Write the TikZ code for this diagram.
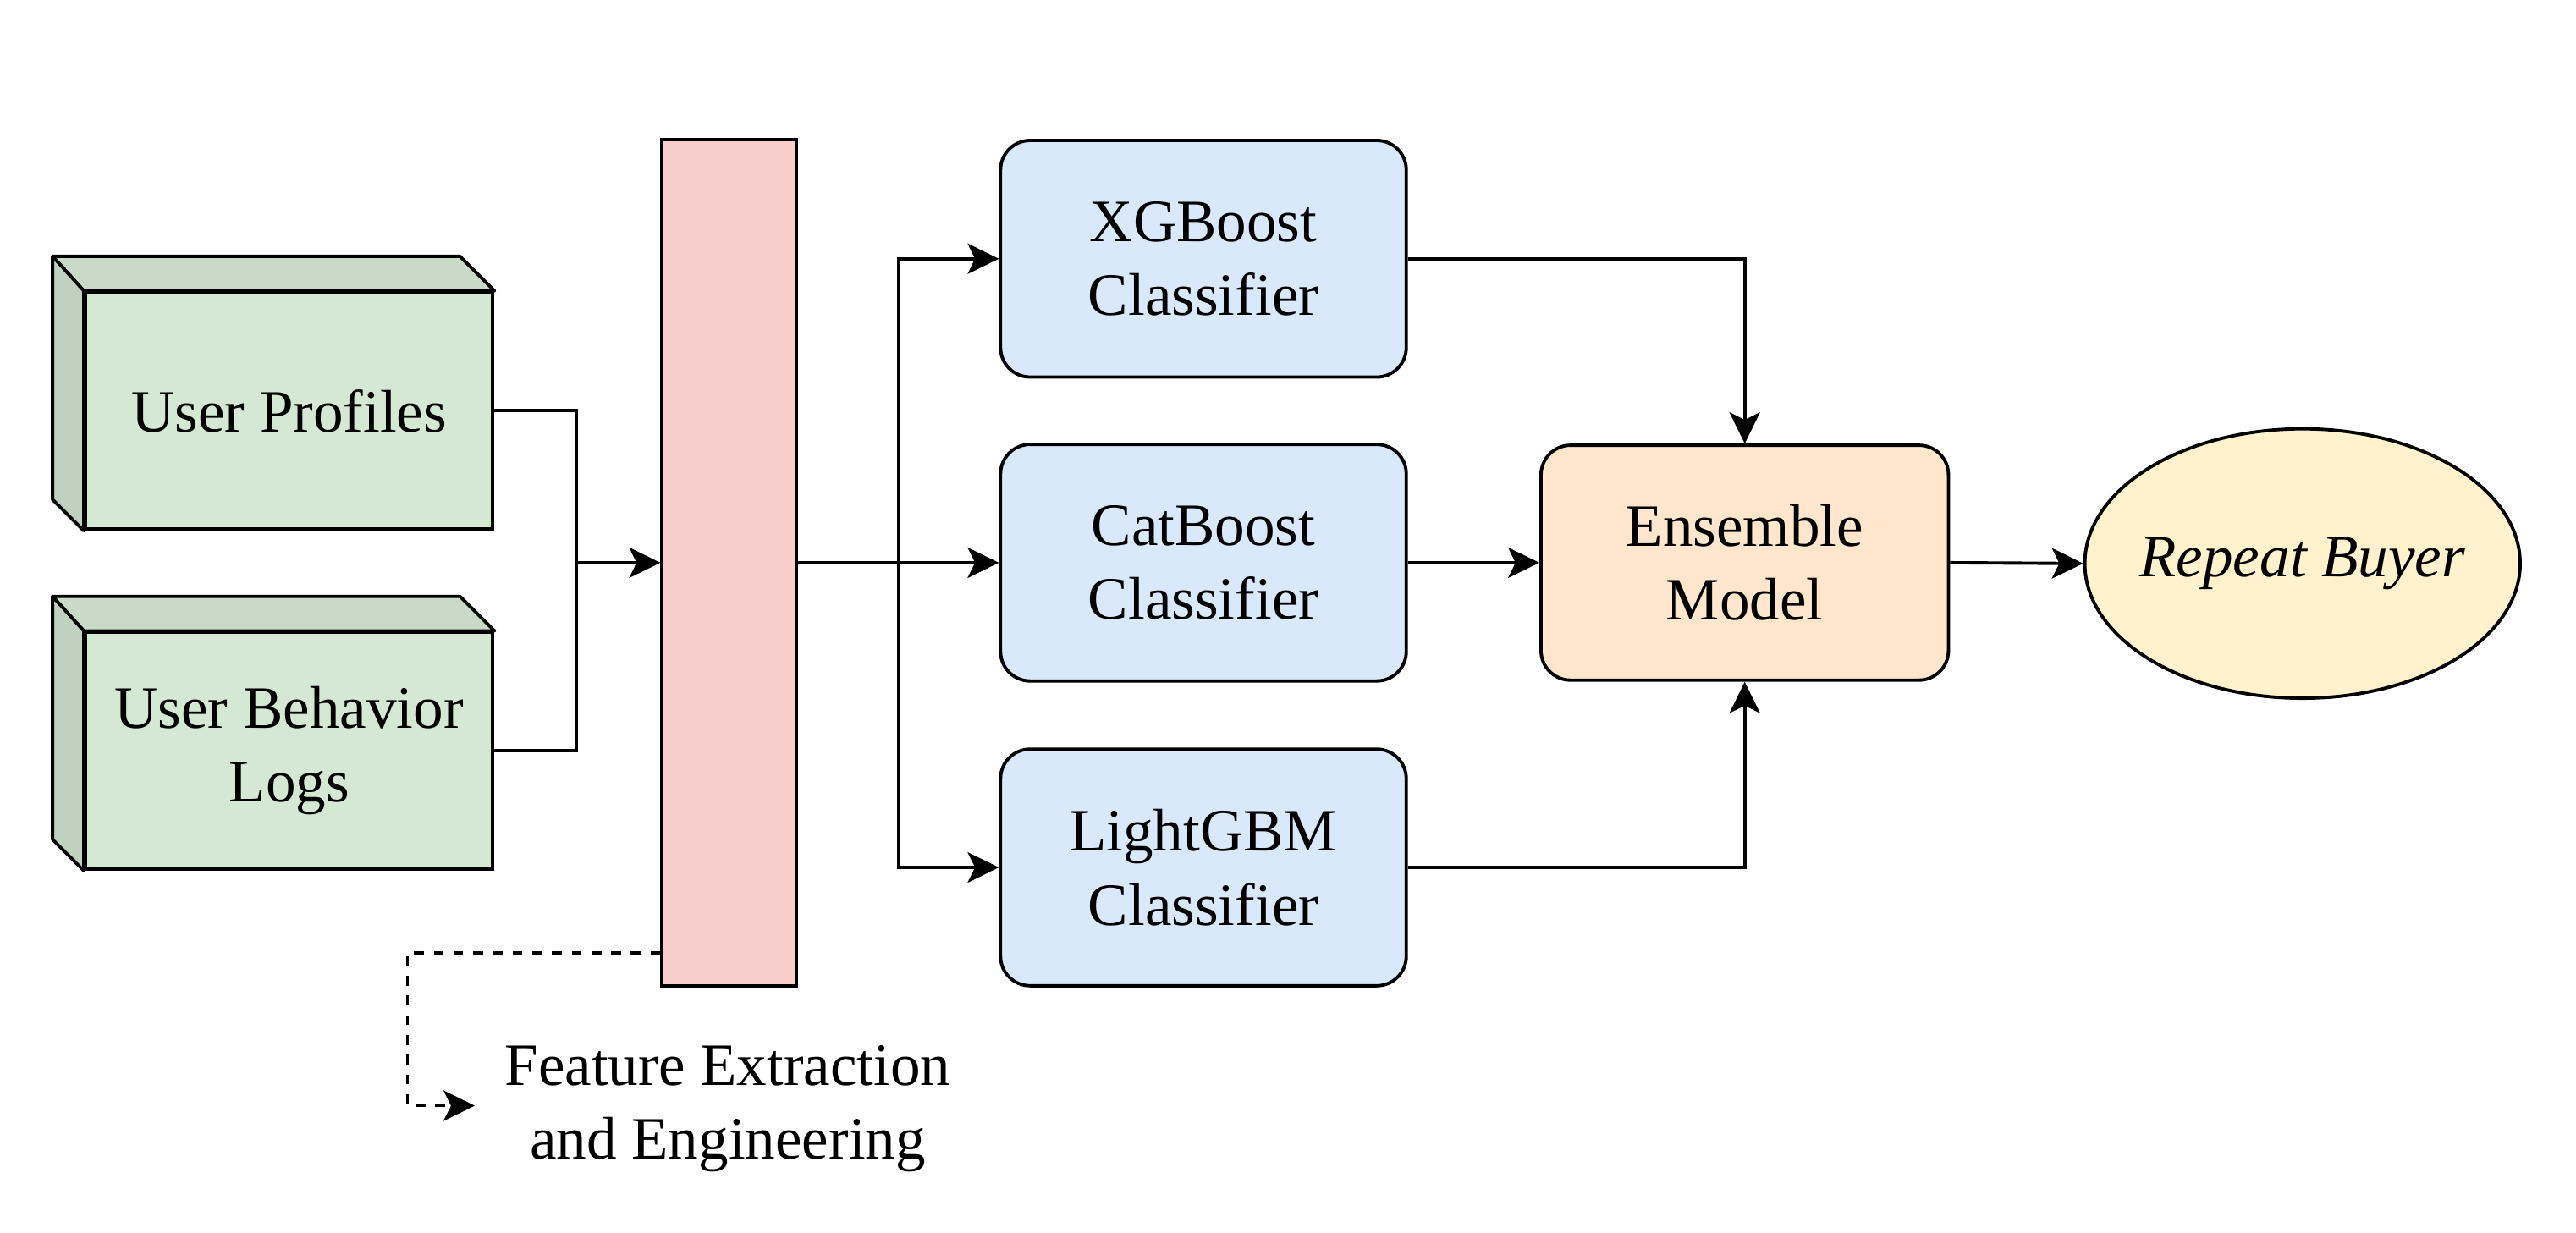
\documentclass[tikz,border=0pt]{standalone}
\usepackage{fontspec}
\setmainfont{Liberation Serif}
\usetikzlibrary{arrows.meta,shapes.geometric}
\definecolor{gfront}{HTML}{D5E8D4}
\definecolor{gtop}{HTML}{C9DBC8}
\definecolor{gside}{HTML}{C0D2BF}
\definecolor{pinkf}{HTML}{F8CECC}
\definecolor{bluef}{HTML}{DAE8FC}
\definecolor{orangef}{HTML}{FFE6CC}
\definecolor{yellowf}{HTML}{FFF2CC}
\begin{document}
\begin{tikzpicture}[x=1pt,y=-1pt,
  every node/.style={font=\fontsize{36.6}{45}\selectfont, align=center, line width=2pt},
  cubefront/.style={draw, fill=gfront, minimum width=248pt, minimum height=144pt, inner sep=0pt},
  barbox/.style={draw, fill=pinkf, minimum width=82pt, minimum height=515pt, inner sep=0pt},
  clsbox/.style={draw, fill=bluef, rounded corners=18pt, minimum width=247pt, minimum height=144pt, inner sep=0pt},
  ensbox/.style={draw, fill=orangef, rounded corners=18pt, minimum width=248pt, minimum height=143pt, inner sep=0pt},
  outell/.style={draw, fill=yellowf, ellipse, minimum width=265pt, minimum height=164pt, inner sep=0pt, font=\fontsize{36.6}{45}\selectfont\itshape},
  conn/.style={line width=2pt, -{Stealth[length=19pt, width=18.5pt, inset=4.5pt]}},
  plain/.style={line width=2pt},
  dashconn/.style={line width=2pt, dash pattern=on 6pt off 6pt, -{Stealth[length=19pt, width=18.5pt, inset=4.5pt]}}
]
\useasboundingbox (0,0) rectangle (1568,750);

% cubes
\node[cubefront] (up) at (176,250) {User Profiles};
\node[cubefront] (ub) at (176,457) {User Behavior\\Logs};
\foreach \c in {up,ub}{
  \filldraw[fill=gtop, line width=2pt, line join=round] (\c.north west) -- ([shift={(-19,-21)}]\c.north west) -- ([shift={(-21,-21)}]\c.north east) -- (\c.north east) -- cycle;
  \filldraw[fill=gside, line width=2pt, line join=round] (\c.north west) -- ([shift={(-19,-21)}]\c.north west) -- ([shift={(-19,-19)}]\c.south west) -- (\c.south west) -- cycle;
}

% feature bar
\node[barbox] (fe) at (444,342.5) {};
\node (fel) at (443,675) {Feature Extraction\\and Engineering};

% classifiers
\node[clsbox] (xgb) at (732.5,157.5) {XGBoost\\Classifier};
\node[clsbox] (cat) at (732.5,342.5) {CatBoost\\Classifier};
\node[clsbox] (lgb) at (732.5,528) {LightGBM\\Classifier};

\node[ensbox] (ens) at (1062,342.5) {Ensemble\\Model};
\node[outell] (rb) at (1401.5,343) {\makebox[0pt]{Repeat Buyer}};

% junctions
\coordinate (j1) at (351,342.5);
\coordinate (j2) at (547,342.5);
\coordinate (d1) at (248,580);
\coordinate (d2) at (289,673);

\draw[plain] (up.east) -| (j1);
\draw[plain] (ub.east) -| (j1);
\draw[conn] (j1) -- (fe.west);

\draw[plain] (fe.east) -- (j2);
\draw[conn] (j2) |- (xgb.west);
\draw[conn] (j2) -- (cat.west);
\draw[conn] (j2) |- (lgb.west);

\draw[conn] (xgb.east) -| (ens.north);
\draw[conn] (cat.east) -- (ens.west);
\draw[conn] (lgb.east) -| (ens.south);
\draw[conn] (ens.east) -- (rb.west);

\draw[dashconn] (fe.west |- d1) -- (d1) |- (d2);
\end{tikzpicture}
\end{document}
